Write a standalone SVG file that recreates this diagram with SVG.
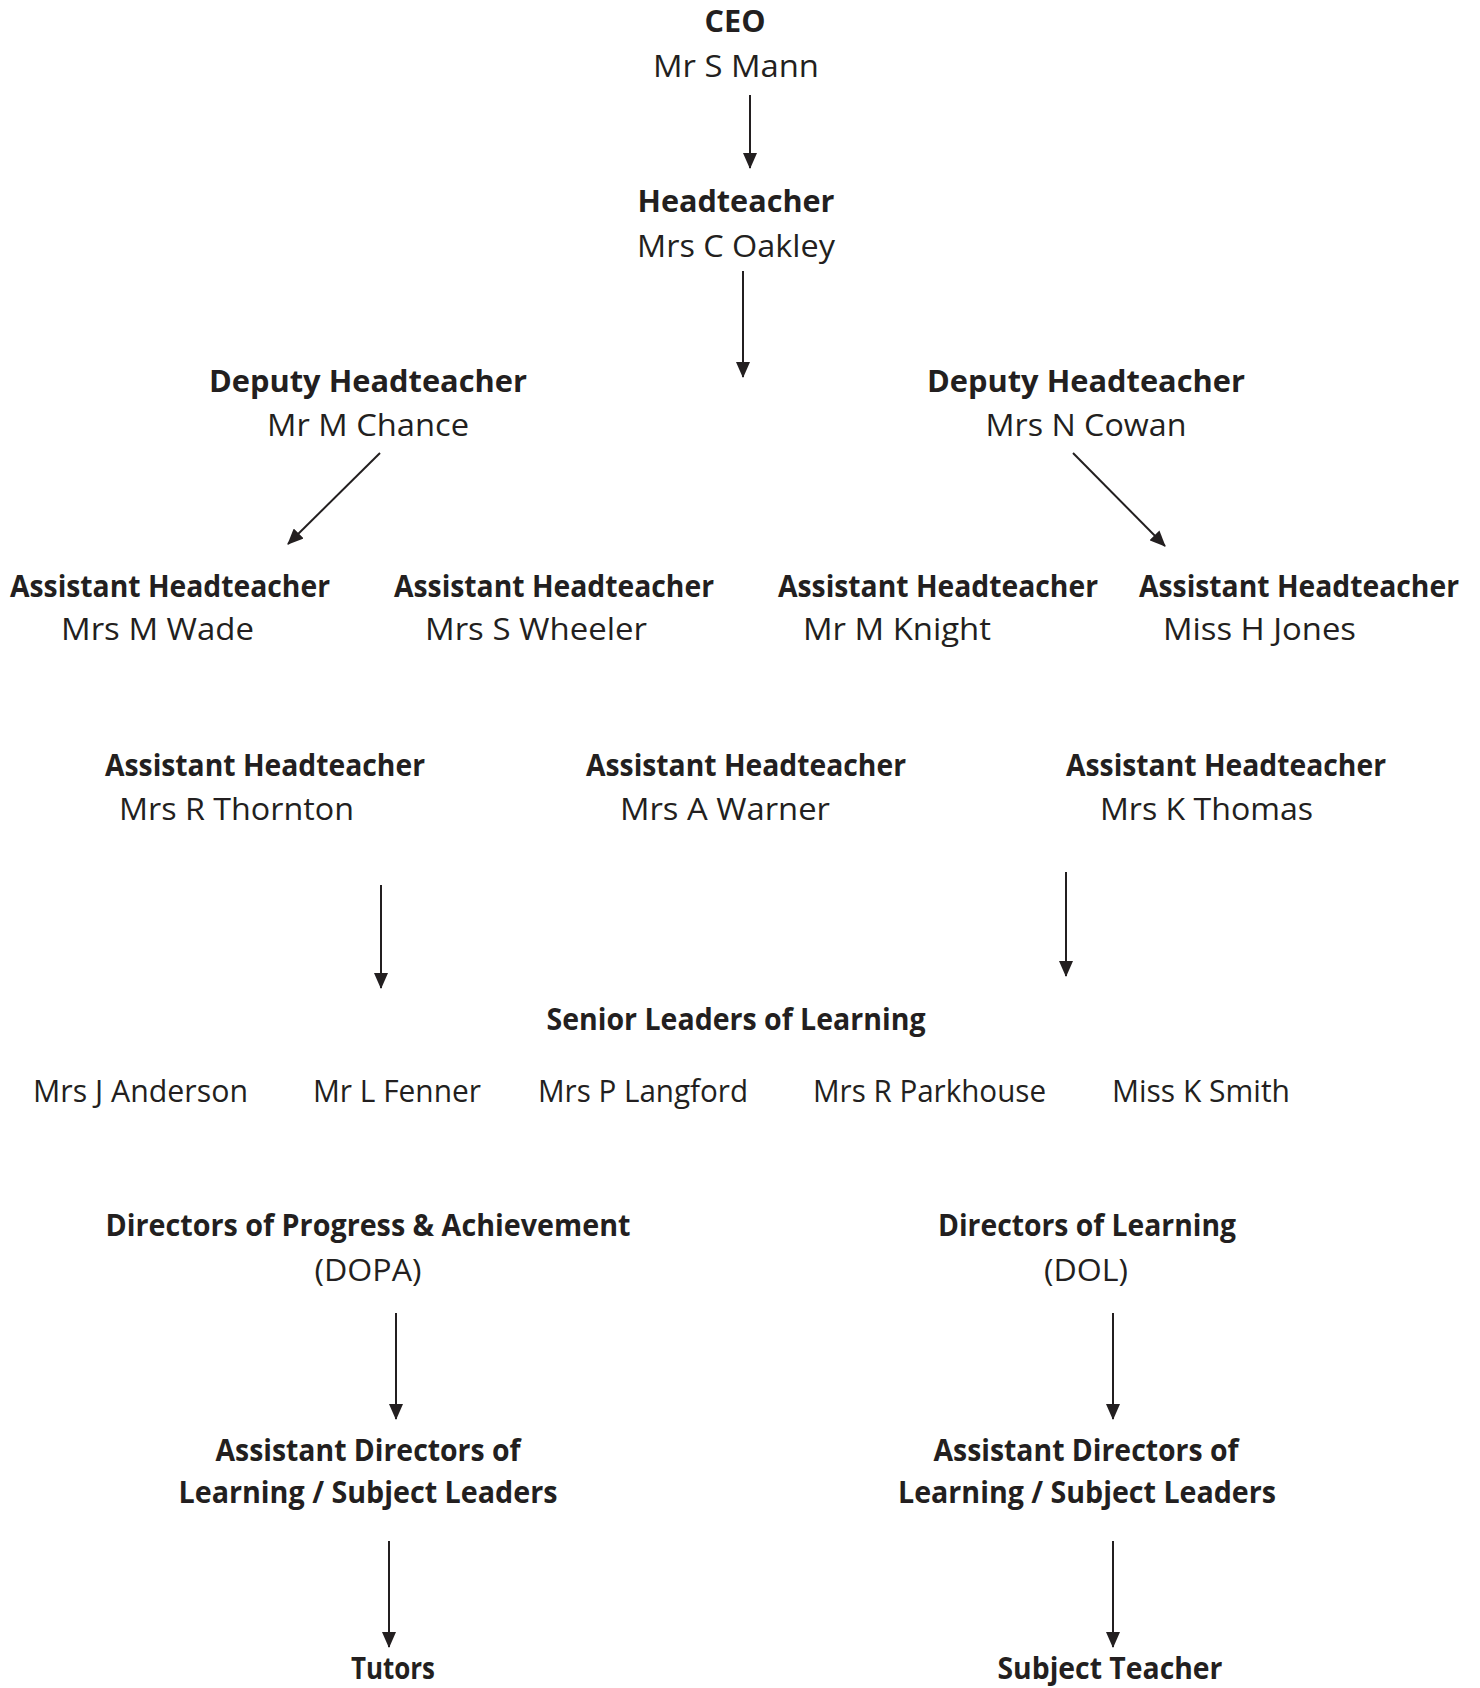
<svg xmlns="http://www.w3.org/2000/svg" width="1480" height="1688" viewBox="0 0 1480 1688">
<style>
text { font-family: "Open Sans", "Liberation Sans", sans-serif; font-size: 31px; fill: #231f20; }
.b { font-weight: bold; font-size: 29.5px; }
.c { text-anchor: middle; }
.conn line { stroke: #231f20; stroke-width: 2; fill: none; }
</style>
<defs>
<marker id="ah" viewBox="0 0 16 14" refX="15" refY="7" markerWidth="16" markerHeight="14" markerUnits="userSpaceOnUse" orient="auto">
<path d="M0,0 L16,7 L0,14 z" fill="#231f20"/>
</marker>
</defs>
<rect width="1480" height="1688" fill="#ffffff"/>

<g id="ceo">
<text class="b c" x="735" y="32" textLength="61" lengthAdjust="spacingAndGlyphs">CEO</text>
<text class="c" x="736" y="77" textLength="166" lengthAdjust="spacingAndGlyphs">Mr S Mann</text>
</g>
<g id="headteacher">
<text class="b c" x="736" y="212" textLength="197" lengthAdjust="spacingAndGlyphs">Headteacher</text>
<text class="c" x="736" y="257" textLength="198" lengthAdjust="spacingAndGlyphs">Mrs C Oakley</text>
</g>
<g id="deputy-chance">
<text class="b c" x="368" y="392" textLength="318" lengthAdjust="spacingAndGlyphs">Deputy Headteacher</text>
<text class="c" x="368" y="436" textLength="202" lengthAdjust="spacingAndGlyphs">Mr M Chance</text>
</g>
<g id="deputy-cowan">
<text class="b c" x="1086" y="392" textLength="318" lengthAdjust="spacingAndGlyphs">Deputy Headteacher</text>
<text class="c" x="1086" y="436" textLength="201" lengthAdjust="spacingAndGlyphs">Mrs N Cowan</text>
</g>
<g id="ah-wade">
<text class="b" x="10" y="597" textLength="320" lengthAdjust="spacingAndGlyphs">Assistant Headteacher</text>
<text x="61" y="640" textLength="193" lengthAdjust="spacingAndGlyphs">Mrs M Wade</text>
</g>
<g id="ah-wheeler">
<text class="b" x="394" y="597" textLength="320" lengthAdjust="spacingAndGlyphs">Assistant Headteacher</text>
<text x="425" y="640" textLength="222" lengthAdjust="spacingAndGlyphs">Mrs S Wheeler</text>
</g>
<g id="ah-knight">
<text class="b" x="778" y="597" textLength="320" lengthAdjust="spacingAndGlyphs">Assistant Headteacher</text>
<text x="803" y="640" textLength="188" lengthAdjust="spacingAndGlyphs">Mr M Knight</text>
</g>
<g id="ah-jones">
<text class="b" x="1139" y="597" textLength="320" lengthAdjust="spacingAndGlyphs">Assistant Headteacher</text>
<text x="1163" y="640" textLength="193" lengthAdjust="spacingAndGlyphs">Miss H Jones</text>
</g>
<g id="ah-thornton">
<text class="b" x="105" y="776" textLength="320" lengthAdjust="spacingAndGlyphs">Assistant Headteacher</text>
<text x="119" y="820" textLength="235" lengthAdjust="spacingAndGlyphs">Mrs R Thornton</text>
</g>
<g id="ah-warner">
<text class="b" x="586" y="776" textLength="320" lengthAdjust="spacingAndGlyphs">Assistant Headteacher</text>
<text x="620" y="820" textLength="210" lengthAdjust="spacingAndGlyphs">Mrs A Warner</text>
</g>
<g id="ah-thomas">
<text class="b" x="1066" y="776" textLength="320" lengthAdjust="spacingAndGlyphs">Assistant Headteacher</text>
<text x="1100" y="820" textLength="213" lengthAdjust="spacingAndGlyphs">Mrs K Thomas</text>
</g>
<g id="senior-leaders">
<text class="b c" x="736" y="1030" textLength="379" lengthAdjust="spacingAndGlyphs">Senior Leaders of Learning</text>
<text x="33" y="1102" textLength="215" lengthAdjust="spacingAndGlyphs">Mrs J Anderson</text>
<text x="313" y="1102" textLength="168" lengthAdjust="spacingAndGlyphs">Mr L Fenner</text>
<text x="538" y="1102" textLength="210" lengthAdjust="spacingAndGlyphs">Mrs P Langford</text>
<text x="813" y="1102" textLength="233" lengthAdjust="spacingAndGlyphs">Mrs R Parkhouse</text>
<text x="1112" y="1102" textLength="178" lengthAdjust="spacingAndGlyphs">Miss K Smith</text>
</g>
<g id="dopa">
<text class="b c" x="368" y="1236" textLength="525" lengthAdjust="spacingAndGlyphs">Directors of Progress &amp; Achievement</text>
<text class="c" x="368" y="1281" textLength="107" lengthAdjust="spacingAndGlyphs">(DOPA)</text>
</g>
<g id="dol">
<text class="b c" x="1087" y="1236" textLength="298" lengthAdjust="spacingAndGlyphs">Directors of Learning</text>
<text class="c" x="1086" y="1281" textLength="84" lengthAdjust="spacingAndGlyphs">(DOL)</text>
</g>
<g id="adl-left">
<text class="b c" x="368" y="1461" textLength="305" lengthAdjust="spacingAndGlyphs">Assistant Directors of</text>
<text class="b c" x="368" y="1503" textLength="379" lengthAdjust="spacingAndGlyphs">Learning / Subject Leaders</text>
</g>
<g id="adl-right">
<text class="b c" x="1086" y="1461" textLength="305" lengthAdjust="spacingAndGlyphs">Assistant Directors of</text>
<text class="b c" x="1087" y="1503" textLength="378" lengthAdjust="spacingAndGlyphs">Learning / Subject Leaders</text>
</g>
<g id="tutors">
<text class="b c" x="393" y="1679" textLength="84" lengthAdjust="spacingAndGlyphs">Tutors</text>
</g>
<g id="subject-teacher">
<text class="b c" x="1110" y="1679" textLength="225" lengthAdjust="spacingAndGlyphs">Subject Teacher</text>
</g>

<g id="connectors" class="conn">
<line x1="750" y1="95" x2="750" y2="168" marker-end="url(#ah)"/>
<line x1="743" y1="271" x2="743" y2="377" marker-end="url(#ah)"/>
<line x1="380" y1="453" x2="288" y2="544" marker-end="url(#ah)"/>
<line x1="1073" y1="453" x2="1165" y2="546" marker-end="url(#ah)"/>
<line x1="381" y1="885" x2="381" y2="988" marker-end="url(#ah)"/>
<line x1="1066" y1="872" x2="1066" y2="976" marker-end="url(#ah)"/>
<line x1="396" y1="1313" x2="396" y2="1419" marker-end="url(#ah)"/>
<line x1="1113" y1="1313" x2="1113" y2="1419" marker-end="url(#ah)"/>
<line x1="389" y1="1541" x2="389" y2="1647" marker-end="url(#ah)"/>
<line x1="1113" y1="1541" x2="1113" y2="1647" marker-end="url(#ah)"/>
</g>
</svg>
